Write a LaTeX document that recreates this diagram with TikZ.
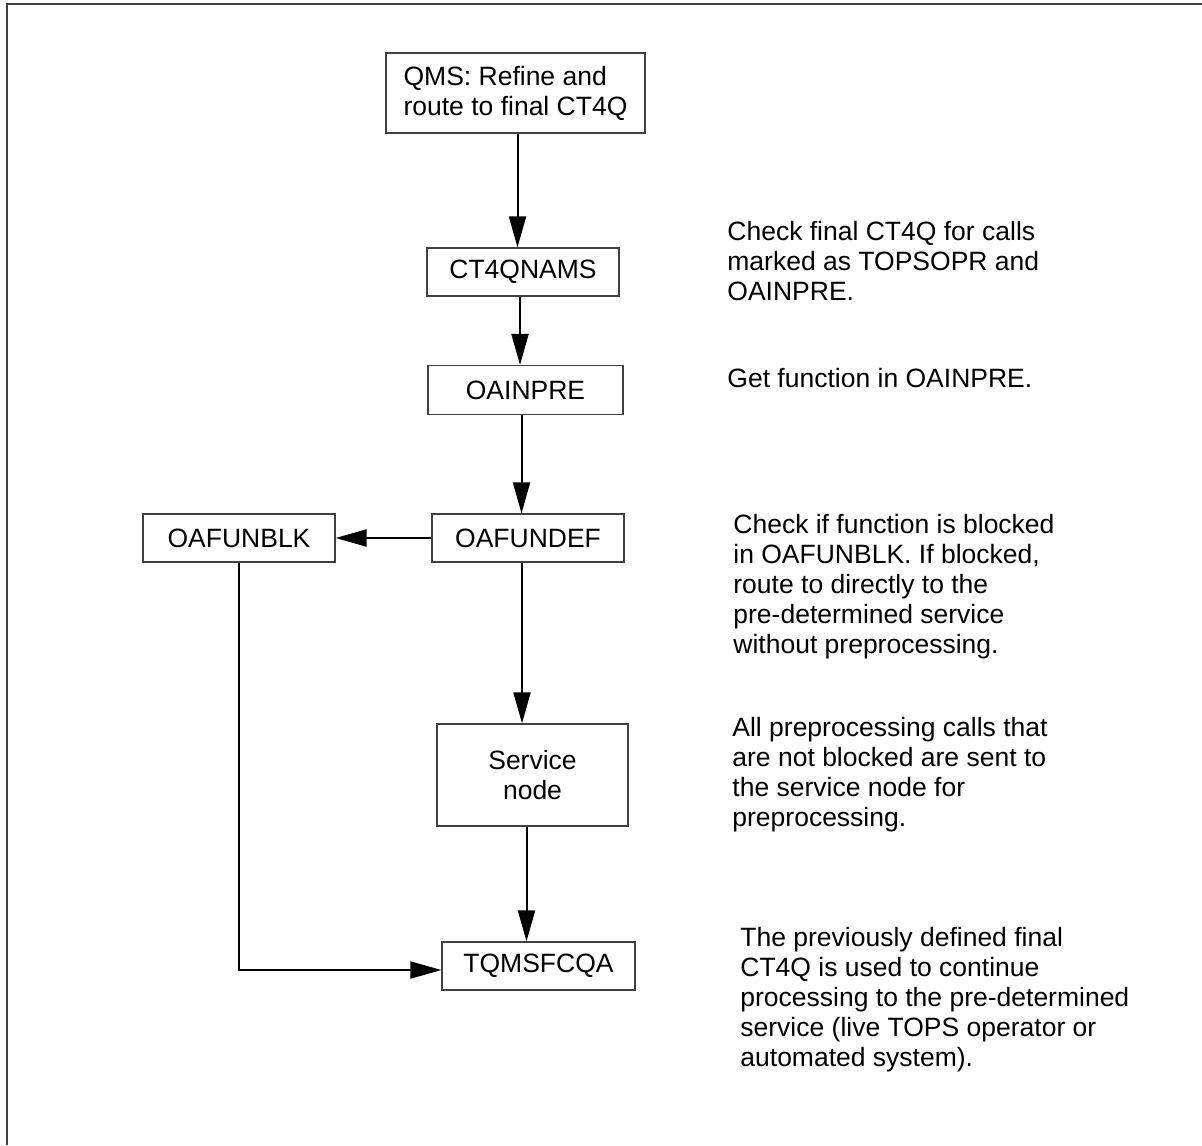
\documentclass[tikz,border=0pt]{standalone}
\usepackage{fontspec}
\setmainfont{Liberation Sans}
\usetikzlibrary{arrows.meta}
\definecolor{frameGray}{HTML}{404040}

\begin{document}
\begin{tikzpicture}[x=0.5pt, y=-0.5pt,
        every node/.style={font=\fontsize{13.25}{15}\selectfont},
        box/.style={draw=frameGray, line width=0.6pt, inner sep=0pt, align=center,
            minimum width=96pt, minimum height=24pt},
        arr/.style={-{Triangle[length=15.5pt, width=8.5pt]}, line width=1pt},
        note/.style={anchor=west, inner sep=0pt, align=left}]
            \useasboundingbox (0,0) rectangle (1202,1145);
            \draw[frameGray, line width=1pt] (7,1145) -- (7,4) -- (1202,4);
            \node[box, align=left, minimum width=129.5pt, minimum height=40pt] (qms) at (515.5,93) {QMS: Refine and\\route to final CT4Q};
            \node[box] (ct4qnams) at (523,272) {CT4QNAMS};
            \node[box, minimum width=97.5pt, minimum height=24.5pt] (oainpre) at (525.5,390) {OAINPRE};
            \node[box] (oafundef) at (528,538) {OAFUNDEF};
            \node[box] (oafunblk) at (239,538) {OAFUNBLK};
            \node[box, minimum width=95.5pt, minimum height=51pt] (service) at (532.5,775) {Service\\node};
            \node[box, minimum width=96.5pt] (tqmsfcqa) at (538.5,966) {TQMSFCQA};
            \draw[arr] ([xshift=1pt]qms.south) -- ([xshift=1pt]qms.south |- ct4qnams.north);
            \draw[arr] ([xshift=-1.5pt]ct4qnams.south) -- ([xshift=-1.5pt]ct4qnams.south |- oainpre.north);
            \draw[arr] ([xshift=-2pt]oainpre.south) -- ([xshift=-2pt]oainpre.south |- oafundef.north);
            \draw[arr] (oafundef.west) -- (oafunblk.east);
            \draw[arr] ([xshift=-3pt]oafundef.south) -- ([xshift=-3pt]oafundef.south |- service.north);
            \draw[arr] ([xshift=-3pt]service.south) -- ([xshift=-3pt]service.south |- tqmsfcqa.north);
            \draw[arr] (oafunblk.south) |- ([yshift=-2pt]tqmsfcqa.west);
            \node[note] (noteCheck) at (727,261) {Check final CT4Q for calls\\marked as TOPSOPR and\\OAINPRE.};
            \node[note] (noteGet) at (727,378) {Get function in OAINPRE.};
            \node[note] (noteBlocked) at (733,587) {Check if function is blocked\\in OAFUNBLK. If blocked,\\route to directly to the\\pre-determined service\\without preprocessing.};
            \node[note] (noteService) at (732,775) {All preprocessing calls that\\are not blocked are sent to\\the service node for\\preprocessing.};
            \node[note] (noteFinal) at (740,1000) {The previously defined final\\CT4Q is used to continue\\processing to the pre-determined\\service (live TOPS operator or\\automated system).};
        \end{tikzpicture}
\end{document}
